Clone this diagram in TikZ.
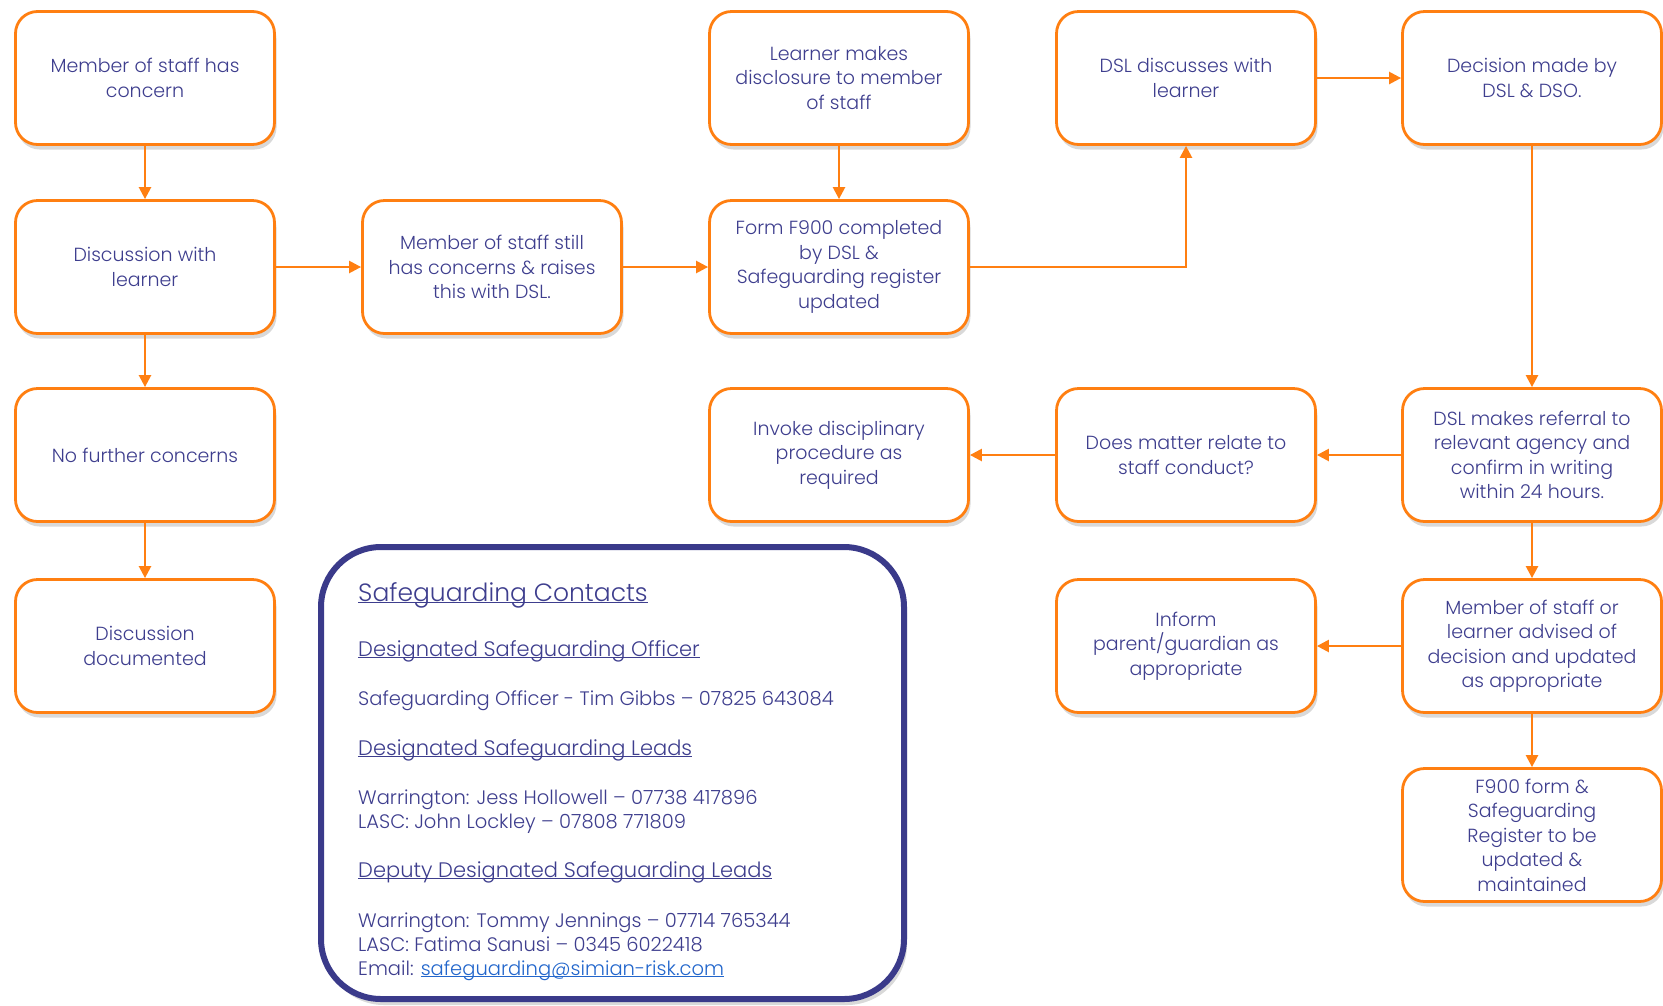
\documentclass[tikz,border=0pt]{standalone}
\usepackage{fontspec}
\setmainfont{Poppins}[UprightFont=* Light]
\usetikzlibrary{arrows.meta,shadows}
\definecolor{flow}{HTML}{FF7F11}
\definecolor{ink}{HTML}{3E3E8E}
\definecolor{frame}{HTML}{3A3A8A}
\definecolor{weblink}{HTML}{2266CC}
\newsavebox\ulbox
\newcommand\undl[1]{\sbox\ulbox{#1}\rlap{\rule[-2.2pt]{\wd\ulbox}{1.2pt}}\usebox\ulbox}

\begin{document}
\begin{tikzpicture}[x=1pt,y=-1pt,
    stage/.style={draw=flow,line width=2.8pt,fill=white,rounded corners=22pt,
      minimum width=259pt,minimum height=133pt,align=center,text=ink,
      font=\fontsize{19}{24.5}\selectfont,
      drop shadow={shadow xshift=2pt,shadow yshift=-5pt,opacity=0.3}},
    flowto/.style={draw=flow,line width=2.4pt,-{Triangle[length=12pt,width=12pt]}},
    entry/.style={anchor=base west,text=ink,inner sep=0pt,font=\fontsize{19.5}{24}\selectfont},
    heading/.style={entry,font=\fontsize{21}{24}\selectfont}]
    \useasboundingbox (0,0) rectangle (1663,1005);
    % flow boxes
    \node[stage] (a1) at (145,78) {Member of staff has\\concern};
    \node[stage] (a2) at (145,267) {Discussion with\\learner};
    \node[stage] (a3) at (145,455) {No further concerns};
    \node[stage] (a4) at (145,646) {Discussion\\documented};
    \node[stage] (b2) at (492,267) {Member of staff still\\has concerns \& raises\\this with DSL.};
    \node[stage] (c1) at (839,78) {Learner makes\\disclosure to member\\of staff};
    \node[stage] (c2) at (839,267) {Form F900 completed\\by DSL \&\\Safeguarding register\\updated};
    \node[stage] (c3) at (839,455) {Invoke disciplinary\\procedure as\\required};
    \node[stage] (d1) at (1186,78) {DSL discusses with\\learner};
    \node[stage] (d3) at (1186,455) {Does matter relate to\\staff conduct?};
    \node[stage] (d4) at (1186,646) {Inform\\parent/guardian as\\appropriate};
    \node[stage] (e1) at (1532,78) {Decision made by\\DSL \& DSO.};
    \node[stage] (e3) at (1532,455) {DSL makes referral to\\relevant agency and\\confirm in writing\\within 24 hours.};
    \node[stage] (e4) at (1532,646) {Member of staff or\\learner advised of\\decision and updated\\as appropriate};
    \node[stage] (e5) at (1532,835) {F900 form \&\\Safeguarding\\Register to be\\updated \&\\maintained};
    % connectors
    \draw[flowto] (a1) -- (a2);
    \draw[flowto] (a2) -- (a3);
    \draw[flowto] (a3) -- (a4);
    \draw[flowto] (a2) -- (b2);
    \draw[flowto] (b2) -- (c2);
    \draw[flowto] (c1) -- (c2);
    \draw[flowto] (c2) -| (d1);
    \draw[flowto] (d1) -- (e1);
    \draw[flowto] (e1) -- (e3);
    \draw[flowto] (e3) -- (d3);
    \draw[flowto] (d3) -- (c3);
    \draw[flowto] (e3) -- (e4);
    \draw[flowto] (e4) -- (d4);
    \draw[flowto] (e4) -- (e5);
    % contacts panel
    \node[draw=frame,line width=6pt,fill=white,rounded corners=60pt,minimum width=583pt,minimum height=452pt,
      drop shadow={shadow xshift=3pt,shadow yshift=-6pt,opacity=0.3}] (contacts) at (612.5,773) {};
    \node[entry,font=\fontsize{25}{30}\selectfont] (title) at (358,601) {\undl{Safeguarding Contacts}};
    \node[heading] (dso) at (358,656) {\undl{Designated Safeguarding Officer}};
    \node[entry] (dsoname) at (358,705) {Safeguarding Officer - Tim Gibbs – 07825 643084};
    \node[heading] (dsl) at (358,755) {\undl{Designated Safeguarding Leads}};
    \node[entry] (dslwar) at (358,804) {Warrington: Jess Hollowell – 07738 417896};
    \node[entry] (dsllasc) at (358,828) {LASC: John Lockley – 07808 771809};
    \node[heading] (ddsl) at (358,877) {\undl{Deputy Designated Safeguarding Leads}};
    \node[entry] (ddslwar) at (358,927) {Warrington: Tommy Jennings – 07714 765344};
    \node[entry] (ddsllasc) at (358,951) {LASC: Fatima Sanusi – 0345 6022418};
    \node[entry] (email) at (358,975) {Email: \textcolor{weblink}{\undl{safeguarding@simian-risk.com}}};
\end{tikzpicture}
\end{document}
